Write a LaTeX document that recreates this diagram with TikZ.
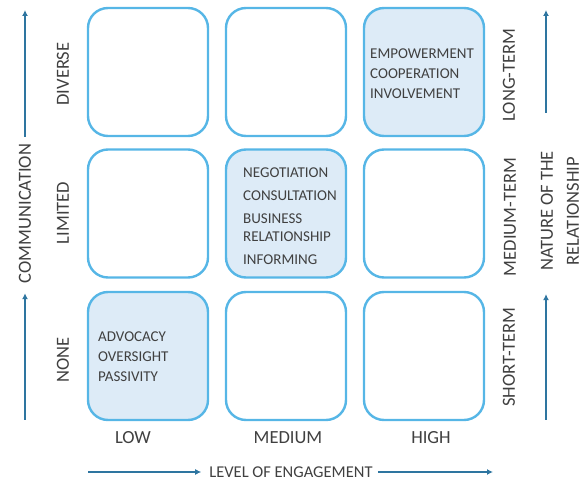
\documentclass[tikz,border=0pt]{standalone}
\usepackage{fontspec}
\setmainfont{Carlito}
\usetikzlibrary{arrows.meta}
\definecolor{cBorder}{RGB}{86,182,230}
\definecolor{cFill}{RGB}{221,235,247}
\definecolor{cArrow}{RGB}{46,117,160}
\definecolor{cText}{RGB}{64,64,64}

\tikzset{
  cell/.style={draw=cBorder, line width=2.4pt, rounded corners=20pt,
    minimum width=120pt, minimum height=128pt, inner sep=0pt},
  cellon/.style={cell, fill=cFill},
  celltext/.style={anchor=west, align=left, text=cText, inner sep=0pt,
    font=\fontsize{15}{20}\selectfont},
  axlabel/.style={text=cText, inner sep=0pt, font=\fontsize{18.5}{26}\selectfont},
  axarrow/.style={draw=cArrow, line width=1.8pt, -{Latex[length=6pt,width=6pt]}},
}

\begin{document}
\begin{tikzpicture}[x=1pt, y=-1pt]
    \useasboundingbox (0,0) rectangle (587,486);

    % the 3x3 grid
    \node[cell] (lowDiv) at (148,72) {};
    \node[cell] (medDiv) at (286,72) {};
    \node[cellon] (highDiv) at (424,72) {};
    \node[cell] (lowLim) at (148,213.5) {};
    \node[cellon] (medLim) at (286,213.5) {};
    \node[cell] (highLim) at (424,213.5) {};
    \node[cellon] (lowNone) at (148,356) {};
    \node[cell] (medNone) at (286,356) {};
    \node[cell] (highNone) at (424,356) {};

    % contents of the filled cells
    \node[celltext] (empower) at (370,74) {EMPOWERMENT\\COOPERATION\\INVOLVEMENT};
    \node[celltext, font=\fontsize{15}{18}\selectfont] (negot) at (243,216)
        {NEGOTIATION\\[5pt]CONSULTATION\\[5pt]BUSINESS\\RELATIONSHIP\\[5pt]INFORMING};
    \node[celltext] (advoc) at (98,357) {ADVOCACY\\OVERSIGHT\\PASSIVITY};

    % communication levels
    \node[axlabel, rotate=90] (diverse) at (63,74) {DIVERSE};
    \node[axlabel, rotate=90] (limited) at (63,213) {LIMITED};
    \node[axlabel, rotate=90] (none) at (63,360) {NONE};

    % relationship terms
    \node[axlabel, rotate=90] (longT) at (509,75) {LONG-TERM};
    \node[axlabel, rotate=90] (mediumT) at (510,217) {MEDIUM-TERM};
    \node[axlabel, rotate=90] (shortT) at (509,357) {SHORT-TERM};

    % engagement levels
    \node[axlabel] (low) at (133,438) {LOW};
    \node[axlabel] (medium) at (288,438) {MEDIUM};
    \node[axlabel] (high) at (431,438) {HIGH};

    % axis titles
    \node[axlabel, rotate=90] (comm) at (25,213.5) {COMMUNICATION};
    \node[axlabel, rotate=90, align=center] (nature) at (560,211) {NATURE OF THE\\RELATIONSHIP};
    \node[axlabel, font=\fontsize{16.5}{20}\selectfont] (engage) at (291,472) {LEVEL OF ENGAGEMENT};

    % axis arrows
    \coordinate (commFoot) at (25,420);
    \coordinate (commHead) at (25,10);
    \draw[axarrow, shorten >=10pt] (commFoot) -- (comm.west);
    \draw[axarrow, shorten <=7pt] (comm.east) -- (commHead);

    \coordinate (natFoot) at (546,420);
    \coordinate (natHead) at (546,10);
    \draw[axarrow, shorten >=23pt] (natFoot) -- (natFoot |- nature.west);
    \draw[axarrow, shorten <=38pt] (natFoot |- nature.east) -- (natHead);

    \coordinate (engFoot) at (88,472);
    \coordinate (engHead) at (493,472);
    \draw[axarrow, shorten >=8pt] (engFoot) -- (engage.west);
    \draw[axarrow, shorten <=5pt] (engage.east) -- (engHead);
\end{tikzpicture}
\end{document}
